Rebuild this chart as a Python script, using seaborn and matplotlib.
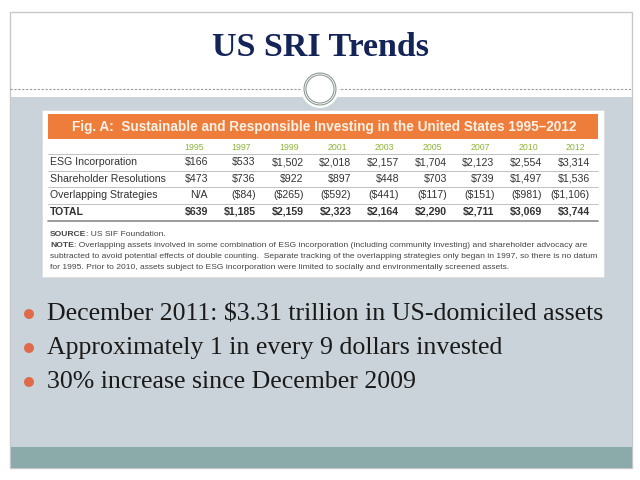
import numpy as np
import pandas as pd
import matplotlib
matplotlib.use("Agg")
import matplotlib.pyplot as plt
from matplotlib.colors import ListedColormap
from matplotlib.patches import Rectangle, Circle
import seaborn as sns

# ---------------- data ----------------
title = "US SRI Trends"
fig_title = "Fig. A:  Sustainable and Responsible Investing in the United States 1995\u20132012"
years = ["1995", "1997", "1999", "2001", "2003", "2005", "2007", "2010", "2012"]
row_labels = ["ESG Incorporation", "Shareholder Resolutions", "Overlapping Strategies", "TOTAL"]
esg = [166, 533, 1502, 2018, 2157, 1704, 2123, 2554, 3314]
shareholder = [473, 736, 922, 897, 448, 703, 739, 1497, 1536]
overlapping = [None, -84, -265, -592, -441, -117, -151, -981, -1106]
total = [639, 1185, 2159, 2323, 2164, 2290, 2711, 3069, 3744]
source_text = ": US SIF Foundation."
note_lines = [
    ": Overlapping assets involved in some combination of ESG incorporation (including community investing) and shareholder advocacy are",
    "subtracted to avoid potential effects of double counting.  Separate tracking of the overlapping strategies only began in 1997, so there is no datum",
    "for 1995. Prior to 2010, assets subject to ESG incorporation were limited to socially and environmentally screened assets.",
]
bullets = [
    "December 2011: $3.31 trillion in US-domiciled assets",
    "Approximately 1 in every 9 dollars invested",
    "30% increase since December 2009",
]

# ---------------- style ----------------
sns.set_theme(style="white")
plt.rcParams["font.family"] = ["Liberation Sans", "DejaVu Sans"]

W, H = 640, 480
fig = plt.figure(figsize=(6.4, 4.8), dpi=100)
fig.patch.set_facecolor("white")
bg = fig.add_axes([0, 0, 1, 1])
bg.set_xlim(0, W)
bg.set_ylim(H, 0)
bg.axis("off")

# slide frame
bg.add_patch(Rectangle((10, 12), 622, 456, facecolor="white", edgecolor="#c8c8c8", lw=1))
bg.add_patch(Rectangle((10.5, 97), 621, 350, facecolor="#c9d3d9", edgecolor="none"))
bg.add_patch(Rectangle((10.5, 447), 621, 21, facecolor="#8aabaa", edgecolor="none"))
bg.plot([10, 632], [89, 89], ls=(0, (2, 1.5)), color="#9a9a9a", lw=0.8)
bg.add_patch(Circle((320, 89), 19, facecolor="white", edgecolor="none", zorder=3))
bg.add_patch(Circle((320, 89), 15, facecolor="white", edgecolor="#8e9a96", lw=2.2, zorder=4))
bg.add_patch(Circle((320, 89), 15, facecolor="none", edgecolor="white", lw=0.6, zorder=5))

bg.text(320, 48, title, ha="center", va="center", fontsize=24.5, fontweight="bold",
        family=["Liberation Serif"], color="#142459")

# table image box
bg.add_patch(Rectangle((42, 110), 562, 167, facecolor="white", edgecolor="#dddddd", lw=0.6))
bg.add_patch(Rectangle((48, 114), 550, 25, facecolor="#ee7d3b", edgecolor="none"))
bg.text(324, 127, fig_title, ha="center", va="center", fontsize=9.85, fontweight="bold",
        color="#fdf1e6")

row_y = [162.25, 178.75, 195.25, 211.75]
for y in [154, 170.5, 187, 203.5]:
    bg.plot([48, 598], [y, y], color="#b8b8b8", lw=0.6)
bg.plot([48, 598], [220.5, 220.5], color="#8a8a8a", lw=1.2)
for lab, y in zip(row_labels, row_y):
    bg.text(50, y, lab, ha="left", va="center", fontsize=7.6, color="#333333",
            fontweight="bold" if lab == "TOTAL" else "normal")

# heatmap-based value grid (transparent cells, annotations only)
def fmt(v):
    if v is None:
        return "N/A"
    if v < 0:
        return "(${:,})".format(-v)
    return "${:,}".format(v)

vals = pd.DataFrame([esg, shareholder, overlapping, total], index=row_labels, columns=years)
labels = vals.apply(lambda col: col.map(lambda v: fmt(None if pd.isna(v) else int(v))))
left, cw = 167.4, 47.75
tax = fig.add_axes([left / W, 1 - 220 / H, 9 * cw / W, 66 / H])
tax.patch.set_alpha(0)
sns.heatmap(vals.fillna(0).astype(float), ax=tax, cmap=ListedColormap([(1, 1, 1, 0)]), cbar=False,
            annot=labels.values, fmt="", annot_kws={"fontsize": 7.6, "color": "#333333"},
            linewidths=0)
for t in tax.texts:
    x, y = t.get_position()
    t.set_x(x + 0.35)
    t.set_ha("right")
    t.set_color("#333333")
    if y > 3:
        t.set_fontweight("bold")
tax.xaxis.tick_top()
tax.set_xticks(np.arange(len(years)) + 0.55)
tax.set_xticklabels(years, fontsize=6.3, color="#8db33a")
tax.tick_params(axis="x", length=0, pad=1.5)
tax.set_yticks([])
tax.set_xlabel("")
tax.set_ylabel("")
for s in tax.spines.values():
    s.set_visible(False)

# notes
NFS = 6.08
renderer = fig.canvas.get_renderer()
def bold_then(x, y, head, rest):
    t = bg.text(x, y, head, ha="left", va="center", fontsize=NFS, fontweight="bold", color="#444444")
    bb = t.get_window_extent(renderer)
    bg.text(x + bb.width, y, rest, ha="left", va="center", fontsize=NFS, color="#444444")

bold_then(50, 234.5, "SOURCE", source_text)
bold_then(50, 245.5, "NOTE", note_lines[0])
bg.text(50, 256.5, note_lines[1], ha="left", va="center", fontsize=NFS, color="#444444")
bg.text(50, 267.5, note_lines[2], ha="left", va="center", fontsize=NFS, color="#444444")

# bullets
for i, b in enumerate(bullets):
    y = 314 + i * 34
    bg.add_patch(Circle((29, y), 5, facecolor="#df6b4c", edgecolor="none"))
    bg.text(47, y, b, ha="left", va="center", fontsize=18.6, family=["Liberation Serif"], color="#1a1a1a")

fig.savefig("out.png", dpi=100)
